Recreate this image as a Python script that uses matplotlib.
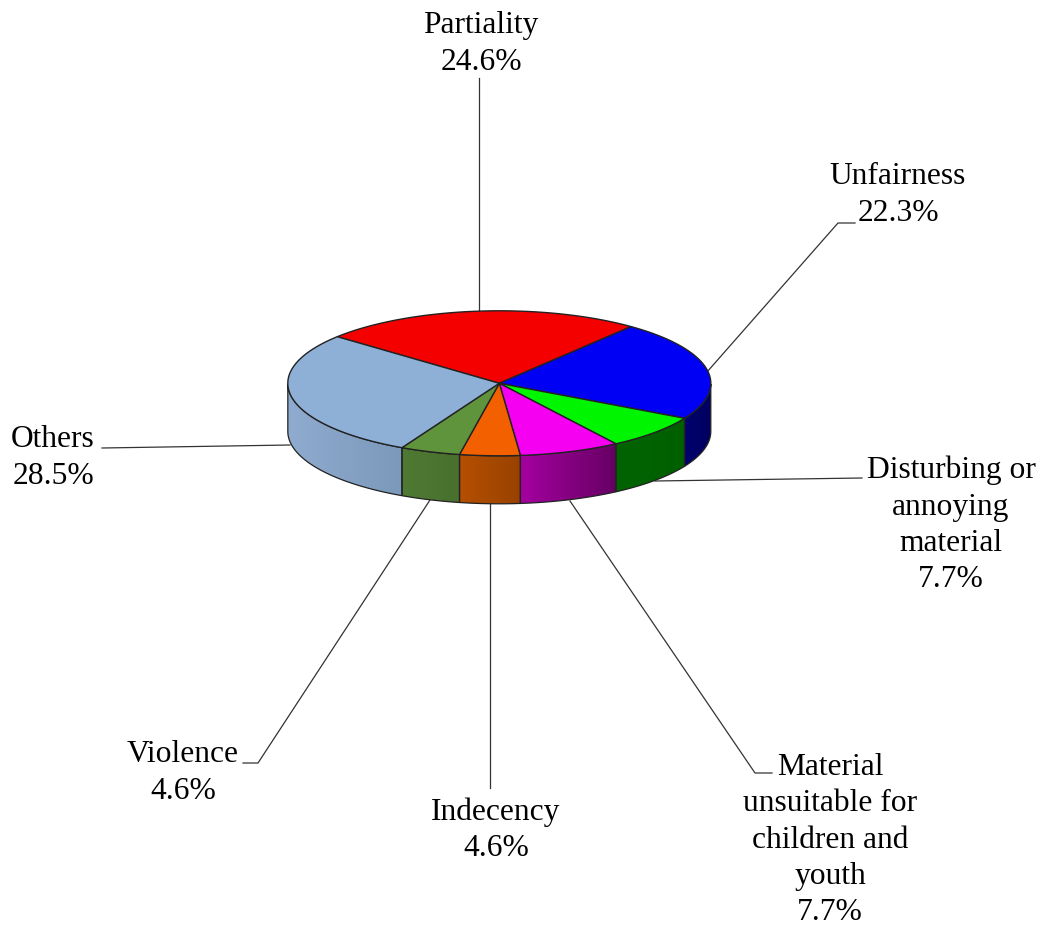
import numpy as np
import matplotlib
matplotlib.use('Agg')
import matplotlib.pyplot as plt
from matplotlib.colors import LinearSegmentedColormap
from matplotlib.patches import Polygon

plt.rcParams['font.family'] = ['Liberation Serif']

# Slices, clockwise from the upper left edge of Partiality
labels = ['Partiality', 'Unfairness', 'Disturbing or\nannoying\nmaterial',
          'Material\nunsuitable for\nchildren and\nyouth', 'Indecency', 'Violence', 'Others']
values = [24.6, 22.3, 7.7, 7.7, 4.6, 4.6, 28.5]
top_colors = ['#f50000', '#0000f5', '#00f500', '#f500f0', '#f26000', '#5f943c', '#8eafd6']
side_left = ['#a00000', '#00006e', '#006400', '#a5009f', '#b54f00', '#4f7a33', '#8fabcf']
side_right = ['#a00000', '#000060', '#006000', '#660064', '#984200', '#48702e', '#7b99bb']

# Label centres and leader lines, in pixels
label_pos = [(481, 44), (898, 195), (951, 525), (830, 840), (496, 830), (183, 773), (53, 458)]
leaders = [
    [(479, 78), (479, 311)],
    [(855, 223), (838, 223), (707, 372)],
    [(862, 478), (655, 481)],
    [(772, 773), (755, 773), (570, 501)],
    [(490, 788), (490, 504)],
    [(243, 763), (258, 763), (430, 500)],
    [(102, 448), (290, 445)],
]

cx, cy = 499.3, 383.3
rx, ry = 211.5, 72.5
depth = 48
start_angle = 140.0


def rim(t):
    return np.column_stack([cx + rx * np.cos(t), cy + ry * np.sin(-t)])


fig = plt.figure(figsize=(10.46, 9.3), dpi=100)
ax = fig.add_axes([0, 0, 1, 1])
ax.set_xlim(0, 1046)
ax.set_ylim(930, 0)
ax.axis('off')

for pts in leaders:
    pts = np.array(pts)
    ax.plot(pts[:, 0], pts[:, 1], color='#333333', lw=0.9, zorder=1)

edges = start_angle - np.cumsum([0] + values) * 3.6

for i in range(len(values)):
    t1 = np.radians(edges[i])
    t2 = np.radians(edges[i + 1])
    t = np.linspace(t1, t2, 120)

    # outer wall: only the part on the front half of the ellipse shows
    sin_front = t[np.sin(t) <= 0]
    if len(sin_front) > 1:
        up = rim(sin_front)
        down = up + [0, depth]
        wall = np.vstack([up, down[::-1]])
        cmap = LinearSegmentedColormap.from_list('w', [side_left[i], side_right[i]])
        x0, x1 = wall[:, 0].min(), wall[:, 0].max()
        y0, y1 = wall[:, 1].min(), wall[:, 1].max()
        im = ax.imshow(np.linspace(0, 1, 64).reshape(1, -1), cmap=cmap, aspect='auto',
                       extent=(x0, x1, y1, y0), zorder=2, interpolation='bilinear')
        poly = Polygon(wall, closed=True, facecolor='none', edgecolor='#222222', lw=0.9, zorder=3)
        ax.add_patch(poly)
        im.set_clip_path(poly)

    # top face
    face = np.vstack([[cx, cy], rim(t)])
    ax.add_patch(Polygon(face, closed=True, facecolor=top_colors[i], edgecolor='#222222',
                         lw=1.0, joinstyle='round', zorder=4))

ax.set_xlim(0, 1046)
ax.set_ylim(930, 0)

for lab, val, pos in zip(labels, values, label_pos):
    ax.text(pos[0], pos[1], f'{lab}\n{val:.1f}%', ha='center', va='center', fontsize=22.7,
            color='black', linespacing=1.34, zorder=5)

fig.savefig('out.png', dpi=100, facecolor='white')
